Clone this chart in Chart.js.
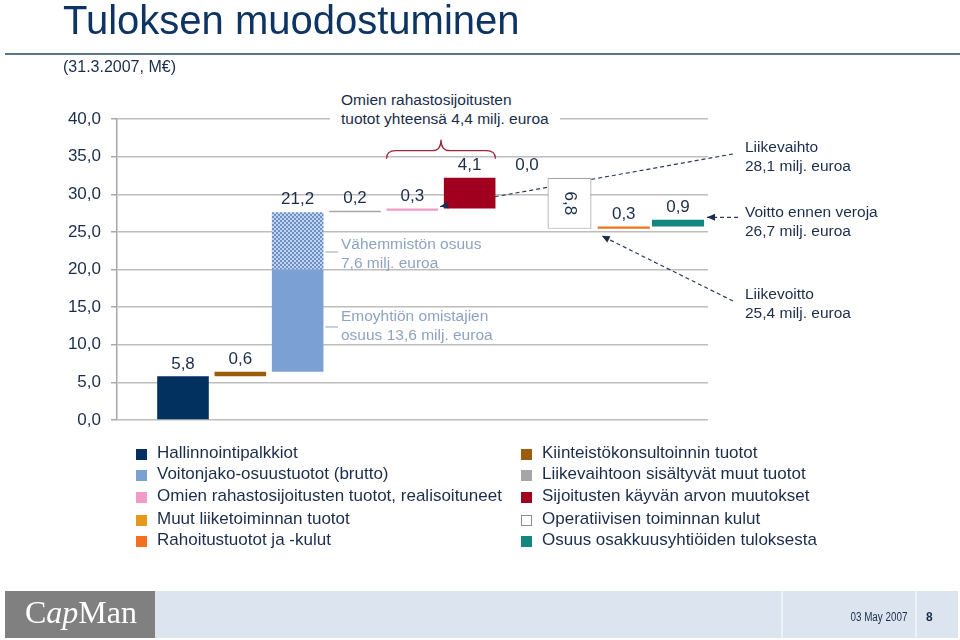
<!DOCTYPE html>
<html lang="fi">
<head>
<meta charset="utf-8">
<title>Tuloksen muodostuminen</title>
<script src="https://cdn.jsdelivr.net/npm/chart.js@4.4.1/dist/chart.umd.min.js"></script>
<style>
html, body { margin: 0; padding: 0; background: #fff; }
body {
    position: relative; width: 960px; height: 640px; overflow: hidden;
    font-family: 'Liberation Sans', Arial, sans-serif; color: #1b2d4b;
}
#chart { position: absolute; left: 0; top: 0; }
.title { position: absolute; left: 63px; top: 0; margin: 0; font-weight: normal; font-size: 40px; line-height: 40px; color: #0d3463; }
.rule { position: absolute; left: 5px; top: 53px; width: 955px; border-top: 2px solid #5f7487; }
.sub { position: absolute; left: 63px; top: 58px; font-size: 16px; line-height: 18px; }
.note { position: absolute; white-space: nowrap; font-size: 15.5px; line-height: 19px; }
.note.light { color: #8ea3c2; }
.note.boxed { background: #fff; padding: 0 11px; }
.legend-item { position: absolute; white-space: nowrap; font-size: 17px; line-height: 20px; }
.legend-item i { position: absolute; left: -21px; top: 6px; width: 11px; height: 11px; box-sizing: border-box; }
.logo { position: absolute; left: 5px; top: 591px; width: 150px; height: 47px; background: #808080; }
.logo span { position: absolute; left: 20px; top: -2px; font-family: 'Liberation Serif', 'DejaVu Serif', serif; font-size: 32px; line-height: 47px; color: #fff; }
.band { position: absolute; left: 155px; top: 591px; width: 803px; height: 47px; background: #dce5ef; }
.sep { position: absolute; top: 591px; width: 2px; height: 47px; background: #edf2f7; }
.date { position: absolute; right: 53px; top: 610px; font-size: 12px; line-height: 14px; transform: scaleX(0.82); transform-origin: right center; }
.page { position: absolute; left: 926px; top: 610px; font-size: 12px; line-height: 14px; font-weight: bold; }
</style>
</head>
<body>
<canvas id="chart" width="960" height="640"></canvas>

<h1 class="title">Tuloksen muodostuminen</h1>
<div class="rule"></div>
<div class="sub">(31.3.2007, M€)</div>

<div class="note boxed" style="left:330px; top:90px;">Omien rahastosijoitusten<br>tuotot yhteensä 4,4 milj. euroa</div>
<div class="note light" style="left:341px; top:234px;">Vähemmistön osuus<br>7,6 milj. euroa</div>
<div class="note light" style="left:341px; top:306px;">Emoyhtiön omistajien<br>osuus 13,6 milj. euroa</div>
<div class="note" style="left:745px; top:137px;">Liikevaihto<br>28,1 milj. euroa</div>
<div class="note" style="left:745px; top:202px;">Voitto ennen veroja<br>26,7 milj. euroa</div>
<div class="note" style="left:745px; top:284px;">Liikevoitto<br>25,4 milj. euroa</div>

<div id="legend"></div>

<div class="logo"><span>C<em>ap</em>Man</span></div>
<div class="band"></div>
<div class="sep" style="left:781px;"></div>
<div class="sep" style="left:915px;"></div>
<div class="date">03 May 2007</div>
<div class="page">8</div>

<script>
const seriesNames = [
    'Hallinnointipalkkiot',
    'Kiinteistökonsultoinnin tuotot',
    'Voitonjako-osuustuotot (brutto)',
    'Liikevaihtoon sisältyvät muut tuotot',
    'Omien rahastosijoitusten tuotot, realisoituneet',
    'Sijoitusten käyvän arvon muutokset',
    'Muut liiketoiminnan tuotot',
    'Operatiivisen toiminnan kulut',
    'Rahoitustuotot ja -kulut',
    'Osuus osakkuusyhtiöiden tuloksesta',
]
const seriesValues = [5.8, 0.6, 21.2, 0.2, 0.3, 4.1, 0.0, -6.8, 0.3, 0.9]
// voitonjako-osuustuotot: emoyhtiön omistajien osuus, vähemmistön osuus
const voitonjakoShares = [13.6, 7.6]
const yTickValues = [0, 5, 10, 15, 20, 25, 30, 35, 40]

const seriesColors = [
    '#02305f', '#9b5c0c', '#7ba0d4', '#a6a6a6', '#ef9dc8',
    '#a0001e', '#e5991c', '#ffffff', '#f4701f', '#12877f',
]
const textColor = '#1b2d4b'
const fontFamily = "'Liberation Sans', Arial, sans-serif"
const fmt = v => Math.abs(v).toFixed(1).replace('.', ',')

// legend, two columns
const legend = document.getElementById('legend')
const legendRows = [453, 474, 496, 519, 540]
seriesNames.forEach((name, i) => {
    const item = document.createElement('div')
    item.className = 'legend-item'
    item.style.left = (i % 2 ? 542 : 157) + 'px'
    item.style.top = (legendRows[Math.floor(i / 2)] - 10) + 'px'
    const sq = document.createElement('i')
    sq.style.background = seriesColors[i]
    if (seriesValues[i] < 0) sq.style.border = '1px solid #8c8c8c'
    item.appendChild(sq)
    item.appendChild(document.createTextNode(name))
    legend.appendChild(item)
})

const canvas = document.getElementById('chart')

function makeHatch(c) {
    const tile = document.createElement('canvas')
    tile.width = 4
    tile.height = 4
    const g = tile.getContext('2d')
    g.fillStyle = '#c3d3ec'
    g.fillRect(0, 0, 4, 4)
    g.fillStyle = '#6c91c8'
    g.fillRect(0, 0, 2, 2)
    g.fillRect(2, 2, 2, 2)
    return c.createPattern(tile, 'repeat')
}
const hatch = makeHatch(canvas.getContext('2d'))

// waterfall: each bar starts where the previous one ended
let running = 0
const starts = seriesValues.map(v => { const s = running; running += v; return s })

const datasets = []
const seriesDataset = []
seriesValues.forEach((v, i) => {
    const axis = i >= 7 ? 'x2' : 'x'
    const base = {
        label: seriesNames[i],
        xAxisID: axis,
        grouped: false,
        borderWidth: 0,
        backgroundColor: seriesColors[i],
        categoryPercentage: 1,
        barPercentage: axis === 'x' ? 0.9 : 0.96,
    }
    seriesDataset.push(datasets.length)
    if (i === 2) {
        const mid = starts[i] + voitonjakoShares[0]
        datasets.push({ ...base, data: [{ x: i + 1, y: [starts[i], mid] }] })
        datasets.push({ ...base, backgroundColor: hatch, data: [{ x: i + 1, y: [mid, mid + voitonjakoShares[1]] }] })
    } else if (v < 0) {
        datasets.push({
            ...base, borderColor: '#a6a6a6', borderWidth: 1.2, borderSkipped: false, barPercentage: 0.81,
            data: [{ x: i + 1, y: [starts[i] + v, starts[i]] }],
        })
    } else {
        datasets.push({ ...base, data: [{ x: i + 1, y: [starts[i], starts[i] + v] }] })
    }
})

function barBox(chart, i) {
    const el = chart.getDatasetMeta(seriesDataset[i]).data[0]
    return { x: el.x, left: el.x - el.width / 2, right: el.x + el.width / 2 }
}

function dashedLine(c, x1, y1, x2, y2) {
    c.save()
    c.strokeStyle = '#2a3b58'
    c.lineWidth = 1.2
    c.setLineDash([4, 3])
    c.beginPath()
    c.moveTo(x1, y1)
    c.lineTo(x2, y2)
    c.stroke()
    c.restore()
}

function arrowHead(c, x1, y1, x2, y2) {
    const a = Math.atan2(y2 - y1, x2 - x1)
    c.save()
    c.fillStyle = textColor
    c.translate(x2, y2)
    c.rotate(a)
    c.beginPath()
    c.moveTo(0, 0)
    c.lineTo(-8, -3.5)
    c.lineTo(-8, 3.5)
    c.closePath()
    c.fill()
    c.restore()
}

const notesPlugin = {
    id: 'notes',
    beforeDatasetsDraw(chart) {
        const y = chart.scales.y
        const pink = barBox(chart, 4)
        dashedLine(chart.ctx, 733, 154, pink.right + 2, y.getPixelForValue(starts[5]) - 2)
    },
    afterDatasetsDraw(chart) {
        const c = chart.ctx
        const y = chart.scales.y

        // value labels
        c.save()
        c.fillStyle = textColor
        c.font = '17px ' + fontFamily
        c.textAlign = 'center'
        seriesValues.forEach((v, i) => {
            const b = barBox(chart, i)
            if (v < 0) {
                const mid = y.getPixelForValue(starts[i] + v / 2)
                c.save()
                c.translate(b.x, mid)
                c.rotate(Math.PI / 2)
                c.textBaseline = 'middle'
                c.fillText(fmt(v), 0, 0)
                c.restore()
            } else {
                c.textBaseline = 'bottom'
                c.fillText(fmt(v), b.x, y.getPixelForValue(starts[i] + v) - 4)
            }
        })
        c.restore()

        // brace over the fund investment returns
        const pink = barBox(chart, 4)
        const red = barBox(chart, 5)
        const redTop = y.getPixelForValue(starts[5] + seriesValues[5])
        const xl = pink.left, xr = red.right, xm = (xl + xr) / 2
        const yEnd = redTop - 19, yFlat = redTop - 27, yPeak = redTop - 38
        c.save()
        c.strokeStyle = '#a0283c'
        c.lineWidth = 1.3
        c.beginPath()
        c.moveTo(xl, yEnd)
        c.quadraticCurveTo(xl, yFlat, xl + 9, yFlat)
        c.lineTo(xm - 9, yFlat)
        c.quadraticCurveTo(xm, yFlat, xm, yPeak)
        c.quadraticCurveTo(xm, yFlat, xm + 9, yFlat)
        c.lineTo(xr - 9, yFlat)
        c.quadraticCurveTo(xr, yFlat, xr, yEnd)
        c.stroke()
        c.restore()

        // leaders to the minority / parent share notes
        const blue = barBox(chart, 2)
        c.save()
        c.strokeStyle = '#8ea3c2'
        c.lineWidth = 1
        c.beginPath()
        c.moveTo(blue.right + 2, 252)
        c.lineTo(338, 252)
        c.moveTo(blue.right + 2, 327)
        c.lineTo(338, 327)
        c.stroke()
        c.restore()

        // Liikevaihto arrow head (line drawn behind the bars)
        const lvY = y.getPixelForValue(starts[5]) - 2
        arrowHead(c, 733, 154, pink.right + 2, lvY)

        // Voitto ennen veroja
        const teal = barBox(chart, 9)
        const vevY = y.getPixelForValue(starts[9] + seriesValues[9]) - 2.5
        dashedLine(c, 738, vevY, teal.right + 3, vevY)
        arrowHead(c, 738, vevY, teal.right + 3, vevY)

        // Liikevoitto
        const orange = barBox(chart, 8)
        const lvoY = y.getPixelForValue(starts[8]) + 7
        dashedLine(c, 733, 301, orange.left + 4, lvoY)
        arrowHead(c, 733, 301, orange.left + 4, lvoY)
    },
}

new Chart(canvas, {
    type: 'bar',
    data: { datasets },
    options: {
        responsive: false,
        animation: false,
        layout: { padding: { top: 119, right: 252, bottom: 220, left: 0 } },
        plugins: {
            legend: { display: false },
            tooltip: { enabled: false },
        },
        scales: {
            x: { type: 'linear', display: false, min: -0.151, max: 10.157, offset: false },
            x2: { type: 'linear', display: false, min: -0.341, max: 10.553, offset: false },
            y: {
                min: 0,
                max: 40,
                afterFit: s => { s.width = 117 },
                afterBuildTicks: s => { s.ticks = yTickValues.map(value => ({ value })) },
                ticks: {
                    callback: v => fmt(v),
                    font: { family: fontFamily, size: 17 },
                    color: textColor,
                    padding: 10,
                },
                grid: { color: '#bdbdbd', lineWidth: 1.5, tickLength: 6, tickColor: '#a8a8a8' },
                border: { color: '#a8a8a8', width: 1.5 },
            },
        },
    },
    plugins: [notesPlugin],
})
</script>
</body>
</html>
